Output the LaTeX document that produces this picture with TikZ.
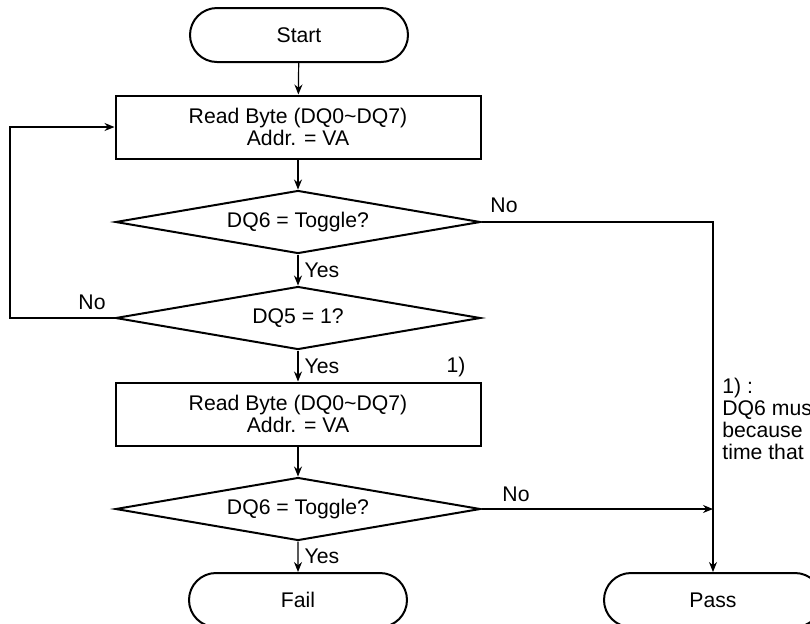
\documentclass[tikz,border=0pt]{standalone}
\usepackage{fontspec}
\setmainfont{Liberation Sans}
\usetikzlibrary{arrows.meta,positioning,shapes.geometric,shapes.misc}

\begin{document}
\begin{tikzpicture}[x=0.5pt,y=-0.5pt,
  font=\fontsize{10.6}{11}\selectfont,
  term/.style={draw,line width=1pt,rounded rectangle,minimum width=109pt,minimum height=27pt,inner sep=0pt},
  proc/.style={draw,line width=1pt,rectangle,minimum width=182.5pt,minimum height=31.5pt,inner sep=0pt,align=center},
  decision/.style={draw,line width=1pt,diamond,aspect=5.8,minimum width=182.5pt,minimum height=31.5pt,inner sep=0pt},
  flow/.style={line width=0.6pt,-{Stealth[length=5pt,width=4pt]}},
  lbl/.style={inner sep=0pt}]
  \useasboundingbox (0,0) rectangle (810,623);
  % main column
  \node[term] (start) at (299,35) {Start};
  \node[proc] (read1) at (298,127) {Read Byte (DQ0\textasciitilde DQ7)\\Addr. = VA};
  \node[decision] (tog1) at (298,222) {DQ6 = Toggle?};
  \node[decision] (dq5) at (298,318) {DQ5 = 1?};
  \node[proc] (read2) at (298,414) {Read Byte (DQ0\textasciitilde DQ7)\\Addr. = VA};
  \node[decision] (tog2) at (298,509) {DQ6 = Toggle?};
  \node[term] (fail) at (298,600) {Fail};
  \node[term] (pass) at (713,600) {Pass};
  \coordinate (loop) at (10,318);
  % connectors
  \draw[flow] (start) -- (read1);
  \draw[flow] (read1) -- (tog1);
  \draw[flow] (tog1) -- (dq5) node[lbl,midway,right=3pt] {Yes};
  \draw[flow] (dq5) -- (read2) node[lbl,midway,right=3pt] {Yes};
  \draw[flow] (read2) -- (tog2);
  \draw[flow] (tog2) -- (fail) node[lbl,midway,right=3pt] {Yes};
  \draw[flow] (dq5.west) -- (loop) |- (read1.west);
  \draw[flow] (tog1.east) -| (pass.north);
  \draw[flow] (tog2.east) -- (tog2.east -| pass.north);
  % labels
  \node[lbl] (no1) at (504,205) {No};
  \node[lbl] (no2) at (92,302) {No};
  \node[lbl] (no3) at (516,494) {No};
  \node[lbl] (fn) at (456,367) {1)};
  \node[lbl,anchor=north west,align=left] (note) at (722,378) {1) :\\DQ6 mus\\because\\time that};
\end{tikzpicture}
\end{document}
